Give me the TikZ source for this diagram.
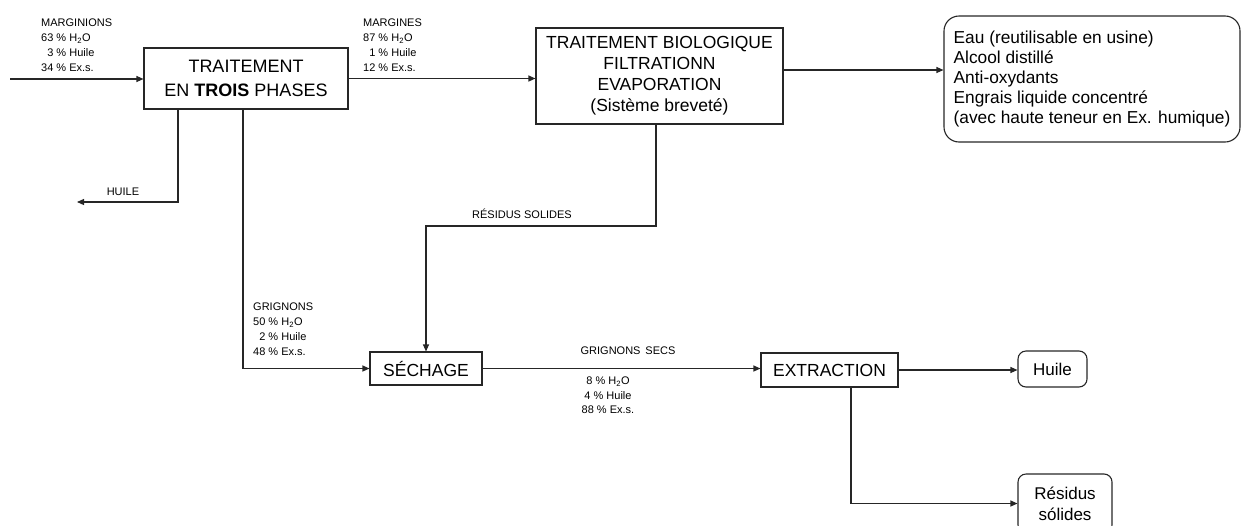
\documentclass[tikz,border=0pt]{standalone}
\usepackage{fontspec}
\setmainfont{Liberation Sans}
\usepackage{tikz}
\usetikzlibrary{shapes, arrows.meta, positioning}

\begin{document}
\begin{tikzpicture}[x=1pt, y=-1pt,
    flow/.style={-{Triangle[length=7pt, width=6pt]}, line width=1.1pt, draw=black!85},
    stepbox/.style={rectangle, draw=black!85, line width=1.1pt, align=center, inner sep=0pt},
    endbox/.style={rectangle, rounded corners=8pt, draw=black!85, line width=1.1pt, align=center, inner sep=0pt},
    tag/.style={align=left, inner sep=0pt, anchor=north west, font=\fontsize{11}{15}\selectfont},
    tagc/.style={inner sep=0pt, font=\fontsize{11}{13}\selectfont}]

    \useasboundingbox (0,0) rectangle (1241,525);

    % Nodes
    \node (tp) [stepbox, minimum width=204pt, minimum height=61pt, font=\fontsize{18}{24}\selectfont] at (246,78.5) {TRAITEMENT\\EN \textbf{TROIS} PHASES};
    \node (bio) [stepbox, minimum width=247pt, minimum height=96pt, font=\fontsize{17.5}{21}\selectfont] at (659.5,76) {TRAITEMENT BIOLOGIQUE\\FILTRATIONN\\EVAPORATION\\(Sistème breveté)};
    \node (out) [endbox, rounded corners=15pt, align=left, minimum width=296pt, minimum height=126pt, font=\fontsize{17.3}{20}\selectfont] at (1092,79) {Eau (reutilisable en usine)\\Alcool distillé\\Anti-oxydants\\Engrais liquide concentré\\(avec haute teneur en Ex. humique)};
    \node (sech) [stepbox, minimum width=112pt, minimum height=33pt, font=\fontsize{17.5}{21}\selectfont] at (426,368.5) {SÉCHAGE};
    \node (ext) [stepbox, minimum width=137pt, minimum height=34pt, font=\fontsize{17.5}{21}\selectfont] at (829.5,370) {EXTRACTION};
    \node (oil) [endbox, minimum width=69pt, minimum height=36pt, font=\fontsize{17}{21}\selectfont] at (1052.5,369) {Huile};
    \node (res) [endbox, minimum width=94pt, minimum height=59pt, font=\fontsize{17}{21}\selectfont] at (1065,503.5) {Résidus\\sólides};

    \coordinate (in) at (10,79);
    \coordinate (huile) at (77,202);
    \coordinate (bend) at (426,226);

    % Labels
    \node (lmarginions) [tag] at (41,19) {MARGINIONS\\63 \% H\textsubscript{2}O\\\phantom{0}3 \% Huile\\34 \% Ex.s.};
    \node (lmargines) [tag] at (363,19) {MARGINES\\87 \% H\textsubscript{2}O\\\phantom{0}1 \% Huile\\12 \% Ex.s.};
    \node (lhuile) [tagc] at (123,192) {HUILE};
    \node (lresidus) [tagc] at (522,214) {RÉSIDUS SOLIDES};
    \node (lgrignons) [tag] at (253,303) {GRIGNONS\\50 \% H\textsubscript{2}O\\\phantom{0}2 \% Huile\\48 \% Ex.s.};
    \node (lsecs) [tagc] at (628,351) {GRIGNONS\, SECS};
    \node (lsecsval) [tag, align=center, anchor=north, font=\fontsize{11}{14.5}\selectfont] at (608,377) {8 \% H\textsubscript{2}O\\4 \% Huile\\88 \% Ex.s.};

    % Edges
    \draw[flow] (in) -- (in -| tp.west);
    \draw[flow] (tp.east) -- (tp.east -| bio.west);
    \draw[flow] ([yshift=6pt]bio.east) -- ([yshift=6pt]bio.east -| out.west);
    \draw[flow] ([xshift=-68pt]tp.south) |- (huile);
    \draw[flow] ([xshift=-3pt]tp.south) |- (sech.west);
    \draw[flow] ([xshift=-3.5pt]bio.south) |- (bend) -- (sech.north);
    \draw[flow] (sech.east) -- (sech.east -| ext.west);
    \draw[flow] (ext.east) -- (ext.east -| oil.west);
    \draw[flow] ([xshift=21.5pt]ext.south) |- (res.west);
\end{tikzpicture}
\end{document}
